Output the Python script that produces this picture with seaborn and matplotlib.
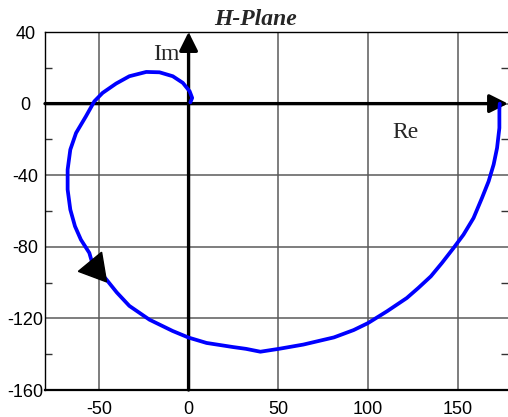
import matplotlib
matplotlib.use("Agg")
import matplotlib.pyplot as plt
import seaborn as sns

# Nyquist locus, from w=0 (right) spiralling into the origin
re_part = [173.4, 173.2, 173.2, 171.9, 170, 167.2, 163.5, 158.8, 153.2, 147.7,
           141.2, 135, 128, 121.6, 110.6, 100, 92, 81, 64, 50.3,
           40, 32, 24.8, 10, 0, -8.9, -21.8, -33, -40, -46,
           -53.4, -55.3, -60, -63.3, -65.9, -67.4, -67.4, -65.9, -62.7, -57.2,
           -52.5, -47.9, -40.4, -33, -23.6, -16.2, -8.8, -3.2, 0.6, 2,
           1]
im_part = [0, -3.4, -13.6, -24.8, -34, -43.4, -52.7, -63.9, -73.2, -80.6,
           -89, -96.5, -103, -108.6, -116, -122.6, -126.5, -130.6, -134.6, -137,
           -138.6, -137, -136, -133.7, -130.7, -127, -120.7, -113, -105.5, -98,
           -90, -83.4, -76, -68.5, -59.2, -48, -36.9, -25.7, -16.4, -7.1,
           1.3, 6, 11.2, 15.3, 17.7, 17.5, 15.3, 11.6, 6.9, 3.2,
           0.7]
arrow_idx = 30  # point on the locus where the direction arrow sits

x_ticks = [-50, 0, 50, 100, 150]
y_ticks = [-160, -120, -80, -40, 0, 40]
y_minor = [-140, -100, -60, -20, 20]

sns.set_style("white")
plt.rcParams["font.family"] = ["Liberation Sans", "DejaVu Sans"]
plt.rcParams["axes.unicode_minus"] = False

fig = plt.figure(figsize=(5.08, 4.17), dpi=100)
ax = fig.add_axes([0.0886, 0.0647, 0.9114, 0.8585])

sns.lineplot(x=re_part, y=im_part, sort=False, estimator=None, color="#0000ff",
             linewidth=2.7, ax=ax, zorder=4,
             solid_joinstyle="round", solid_capstyle="round")
ax.plot([re_part[arrow_idx] + 1], [im_part[arrow_idx] - 2], marker=(3, 0, 99.5),
        markersize=25, color="black", linestyle="none", zorder=5, clip_on=False)

ax.set_xlim(-80, 178)
ax.set_ylim(-160, 40)
ax.set_xticks(x_ticks)
ax.set_yticks(y_ticks)
ax.set_yticks(y_minor, minor=True)
ax.grid(True, which="major", color="#5a5a5a", linewidth=1.1)
ax.tick_params(which="major", length=0, labelsize=13, colors="black")
ax.tick_params(axis="x", pad=8)
ax.tick_params(axis="y", pad=14)
for lab in ax.get_yticklabels():
    lab.set_horizontalalignment("center")
ax.tick_params(which="minor", axis="y", direction="in", length=5, width=1,
               left=True, right=True, color="#333333")

for side in ["top", "left"]:
    ax.spines[side].set_color("black")
    ax.spines[side].set_linewidth(1.0)
ax.spines["bottom"].set_color("black")
ax.spines["bottom"].set_linewidth(1.6)
ax.spines["right"].set_visible(False)

# Re / Im axes with arrow heads
arrow_kw = dict(arrowstyle="-|>", color="black", lw=2.4, mutation_scale=28,
                shrinkA=0, shrinkB=0)
ax.annotate("", xy=(178, 0), xytext=(-80, 0), arrowprops=arrow_kw,
            annotation_clip=False, zorder=3)
ax.annotate("", xy=(0, 40), xytext=(0, -160), arrowprops=arrow_kw,
            annotation_clip=False, zorder=3)

ax.text(-5, 24.5, "Im", ha="right", va="baseline", fontsize=17,
        family="Liberation Serif")
ax.text(113.4, -19, "Re", ha="left", va="baseline", fontsize=17,
        family="Liberation Serif")

fig.text(0.504, 0.94, "H-Plane", ha="center", va="baseline", fontsize=17,
         family="Liberation Serif", fontweight="bold", fontstyle="italic")

fig.savefig("out.png", dpi=100)
